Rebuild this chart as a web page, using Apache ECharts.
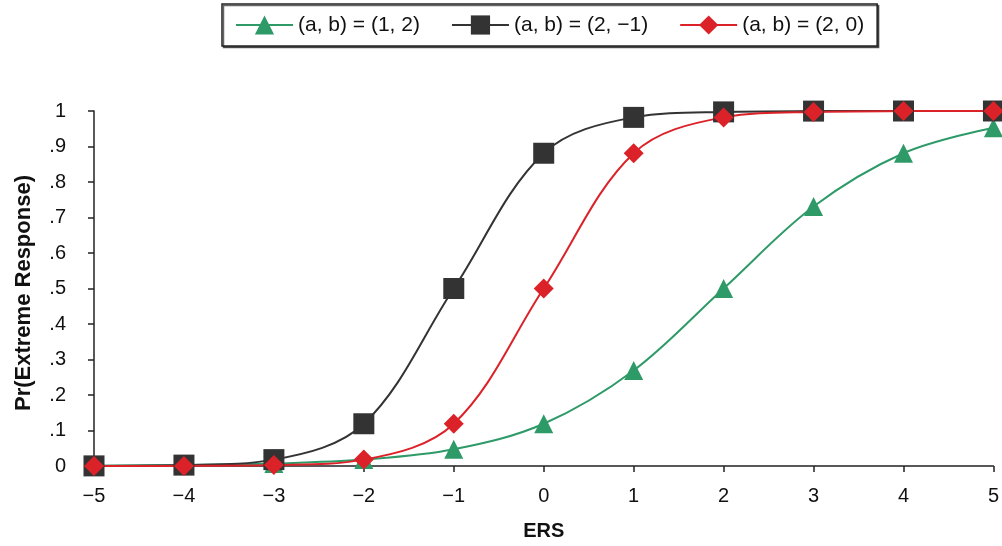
<!DOCTYPE html>
<html>
<head>
<meta charset="utf-8">
<script src="https://cdn.jsdelivr.net/npm/echarts@6/dist/echarts.min.js"></script>
<style>
html,body{margin:0;padding:0;background:#fff;}
#chart{width:1002px;height:546px;}
</style>
</head>
<body>
<div id="chart"></div>
<script>
// ERS values (x axis)
const ersValues = [-5, -4, -3, -2, -1, 0, 1, 2, 3, 4, 5];
// Pr(Extreme Response)
const seriesA1B2 = [0.001, 0.003, 0.007, 0.018, 0.047, 0.119, 0.269, 0.5, 0.731, 0.881, 0.953];
const seriesA2Bm1 = [0.0003, 0.0025, 0.018, 0.119, 0.5, 0.881, 0.982, 0.9975, 0.9997, 1.0, 1.0];
const seriesA2B0 = [0.0001, 0.0003, 0.0025, 0.018, 0.119, 0.5, 0.881, 0.982, 0.9975, 0.9997, 1.0];
const seriesNames = ['(a, b) = (1, 2)', '(a, b) = (2, \u22121)', '(a, b) = (2, 0)'];
const xTickLabels = ['\u22125', '\u22124', '\u22123', '\u22122', '\u22121', '0', '1', '2', '3', '4', '5'];
const yTickLabels = ['0', '.1', '.2', '.3', '.4', '.5', '.6', '.7', '.8', '.9', '1'];
const xTitle = 'ERS';
const yTitle = 'Pr(Extreme Response)';

const FONT = '"Liberation Sans", Arial, Helvetica, sans-serif';
const pairs = arr => ersValues.map((x, i) => [x, arr[i]]);

const chart = echarts.init(document.getElementById('chart'), null, {renderer: 'canvas'});
const mk = (name, data, color, symbol, size) => ({
  name, type: 'line', data: pairs(data),
  smooth: 0.35,
  symbol, symbolSize: size, showSymbol: true,
  lineStyle: {color, width: 2},
  itemStyle: {color, borderColor: color, borderWidth: 0},
  emphasis: {disabled: true},
  animation: false, z: 2
});

chart.setOption({
  animation: false,
  backgroundColor: '#fff',
  grid: {left: 94, right: 5, top: 111, bottom: 77, containLabel: false},
  legend: {
    left: 222, top: 4,
    padding: [10.5, 13],
    itemGap: 31, itemWidth: 57, itemHeight: 24,
    borderColor: '#222', borderWidth: 1.5,
    backgroundColor: '#fff',
    shadowColor: 'rgba(0,0,0,0.6)', shadowOffsetX: 1.5, shadowOffsetY: 1.5, shadowBlur: 0,
    textStyle: {fontFamily: FONT, fontSize: 21, color: '#111'},
    data: seriesNames
  },
  xAxis: {
    type: 'value', min: -5, max: 5, interval: 1,
    name: xTitle, nameLocation: 'middle', nameGap: 55,
    nameTextStyle: {fontFamily: FONT, fontSize: 20, fontWeight: 'bold', color: '#111'},
    axisLine: {show: true, onZero: false, lineStyle: {color: '#222', width: 1.5}},
    axisTick: {show: true, length: 6, lineStyle: {color: '#222', width: 1.5}},
    axisLabel: {margin: 20, fontFamily: FONT, fontSize: 20, color: '#111',
      formatter: v => xTickLabels[Math.round(v) + 5]},
    splitLine: {show: false}
  },
  yAxis: {
    type: 'value', min: 0, max: 1, interval: 0.1,
    axisLine: {show: true, onZero: false, lineStyle: {color: '#222', width: 1.5}},
    axisTick: {show: true, length: 6, lineStyle: {color: '#222', width: 1.5}},
    axisLabel: {margin: 28, fontFamily: FONT, fontSize: 20, color: '#111',
      formatter: v => yTickLabels[Math.round(v * 10)]},
    splitLine: {show: false}
  },
  graphic: [{
    type: 'text', x: 24, y: 293, rotation: Math.PI / 2,
    style: {text: yTitle, font: 'bold 22px ' + FONT, fill: '#111',
      textAlign: 'center', textVerticalAlign: 'middle'}
  }],
  series: [
    mk(seriesNames[0], seriesA1B2, '#2e9a68', 'triangle', 19),
    mk(seriesNames[1], seriesA2Bm1, '#333333', 'rect', 21),
    mk(seriesNames[2], seriesA2B0, '#dc2229', 'diamond', 20)
  ]
});
</script>
</body>
</html>
